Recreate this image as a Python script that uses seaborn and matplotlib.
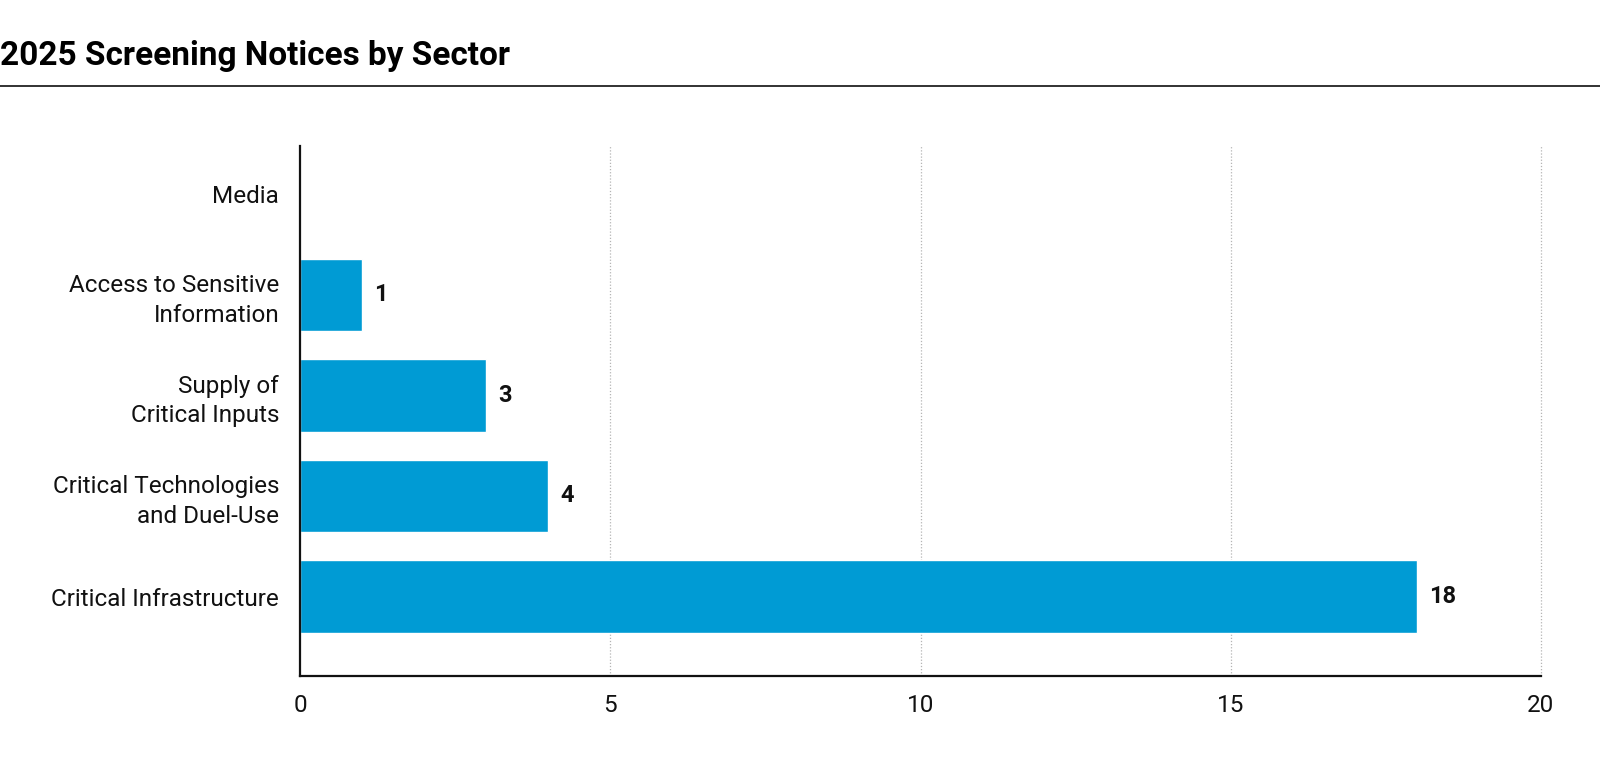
import matplotlib
matplotlib.use("Agg")
import matplotlib.pyplot as plt
import seaborn as sns
import pandas as pd
from matplotlib.lines import Line2D

sectors = ["Media", "Access to Sensitive\nInformation", "Supply of\nCritical Inputs",
           "Critical Technologies\nand Duel-Use", "Critical Infrastructure"]
notices = [0, 1, 3, 4, 18]
xticks = [0, 5, 10, 15, 20]
title = "2025 Screening Notices by Sector"

sns.set_theme(style="white")
plt.rcParams['font.family'] = ['Roboto', 'DejaVu Sans']

df = pd.DataFrame({"sector": sectors, "notices": notices})

fig = plt.figure(figsize=(16, 7.7), dpi=100)
ax = fig.add_axes([300/1600, 1-676/770, (1541-300)/1600, (676-146)/770])

sns.barplot(data=df, y="sector", x="notices", orient="h", color="#009BD4",
            width=0.72, saturation=1, ax=ax)

ax.set_xlim(0, 20)
ax.set_ylim(4.79, -0.48)
ax.set_xticks(xticks)
ax.set_xticklabels([str(t) for t in xticks], fontsize=17.5, color="#111111")
ax.set_xlabel("")
ax.set_ylabel("")
ax.tick_params(axis="y", labelsize=17.5, length=0, pad=15, colors="#111111")
ax.tick_params(axis="x", length=0, pad=13)
for lab in ax.get_yticklabels():
    lab.set_horizontalalignment("right")
    lab.set_linespacing(1.35)
for lab in ax.get_yticklabels() + ax.get_xticklabels():
    lab.set_fontweight("normal")

for t in xticks[1:]:
    ax.axvline(t, color="#b5b5b5", lw=0.9, ls=(0, (1, 1.5)), zorder=0, clip_on=False)

for s in ["top", "right"]:
    ax.spines[s].set_visible(False)
for s in ["left", "bottom"]:
    ax.spines[s].set_color("#111111")
    ax.spines[s].set_linewidth(1.6)
    ax.spines[s].set_zorder(3)

for i, v in enumerate(notices):
    if v > 0:
        ax.text(v + 0.2, i, str(v), va="center", ha="left", fontsize=17,
                fontweight="bold", color="#111111")

fig.text(0.0, 1-56/770, title, fontsize=24, fontweight="bold", ha="left", va="center",
         color="#000000")
fig.add_artist(Line2D([0, 1], [1-86/770, 1-86/770], transform=fig.transFigure,
                      color="#222222", lw=1.3))

fig.savefig("out.png", dpi=100)
